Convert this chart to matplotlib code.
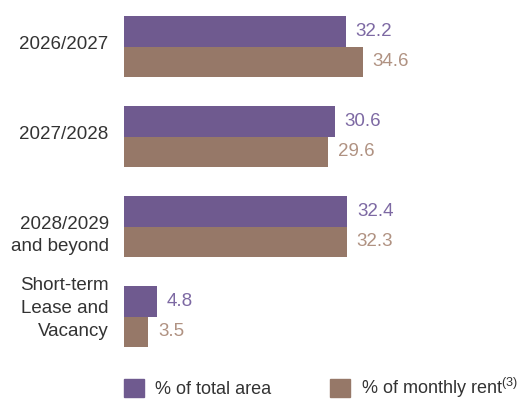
import matplotlib.pyplot as plt
import matplotlib.transforms as mtransforms
from matplotlib.patches import Patch

plt.rcParams['font.family'] = ['Liberation Sans', 'DejaVu Sans']
plt.rcParams['mathtext.fontset'] = 'custom'
plt.rcParams['mathtext.rm'] = 'Liberation Sans'

categories = ['2026/2027', '2027/2028', '2028/2029\nand beyond', 'Short-term\nLease and\nVacancy']
total_area = [32.2, 30.6, 32.4, 4.8]
monthly_rent = [34.6, 29.6, 32.3, 3.5]

purple = '#6f5a8f'
brown = '#967868'
purple_txt = '#7d69a3'
brown_txt = '#b09282'

fig = plt.figure(figsize=(5.22, 4.0), dpi=100)
ax = fig.add_axes([124 / 522, 40 / 400, 398 / 522, 360 / 400])

h = 0.34
ypos = list(range(len(categories)))
y_area = [y - h / 2 for y in ypos]
y_rent = [y + h / 2 for y in ypos]

ax.barh(y_area, total_area, height=h, color=purple)
ax.barh(y_rent, monthly_rent, height=h, color=brown)

for y, v in zip(y_area, total_area):
    ax.annotate(f'{v:.1f}', (v, y), xytext=(7, 0), textcoords='offset points',
                va='center', ha='left', fontsize=13.5, color=purple_txt)
for y, v in zip(y_rent, monthly_rent):
    ax.annotate(f'{v:.1f}', (v, y), xytext=(7, 0), textcoords='offset points',
                va='center', ha='left', fontsize=13.5, color=brown_txt)

ax.set_xlim(0, 57.7)
ax.set_ylim(3.483, -0.517)
ax.set_yticks(ypos)
ax.set_yticklabels(categories, fontsize=13.5, color='#333333', linespacing=1.45)
ax.tick_params(axis='y', length=0, pad=11)
ax.set_xticks([])
for s in ax.spines.values():
    s.set_visible(False)

# small vertical nudges of the category labels (pixels, up is positive)
nudges = [4, 4, -4, 13]
for lbl, dy in zip(ax.get_yticklabels(), nudges):
    lbl.set_transform(lbl.get_transform() +
                      mtransforms.ScaledTranslation(0, dy / 100, fig.dpi_scale_trans))

handles = [Patch(color=purple), Patch(color=brown)]
fig.legend(handles, ['% of total area', '% of monthly rent$^{(3)}$'],
           loc='center left', bbox_to_anchor=(119 / 522, 12 / 400), ncol=2,
           frameon=False, fontsize=13, handlelength=1.1, handleheight=1.1,
           handletextpad=0.6, columnspacing=3.25, labelcolor='#333333',
           borderaxespad=0, borderpad=0.3)

fig.savefig('out.png', dpi=100)
